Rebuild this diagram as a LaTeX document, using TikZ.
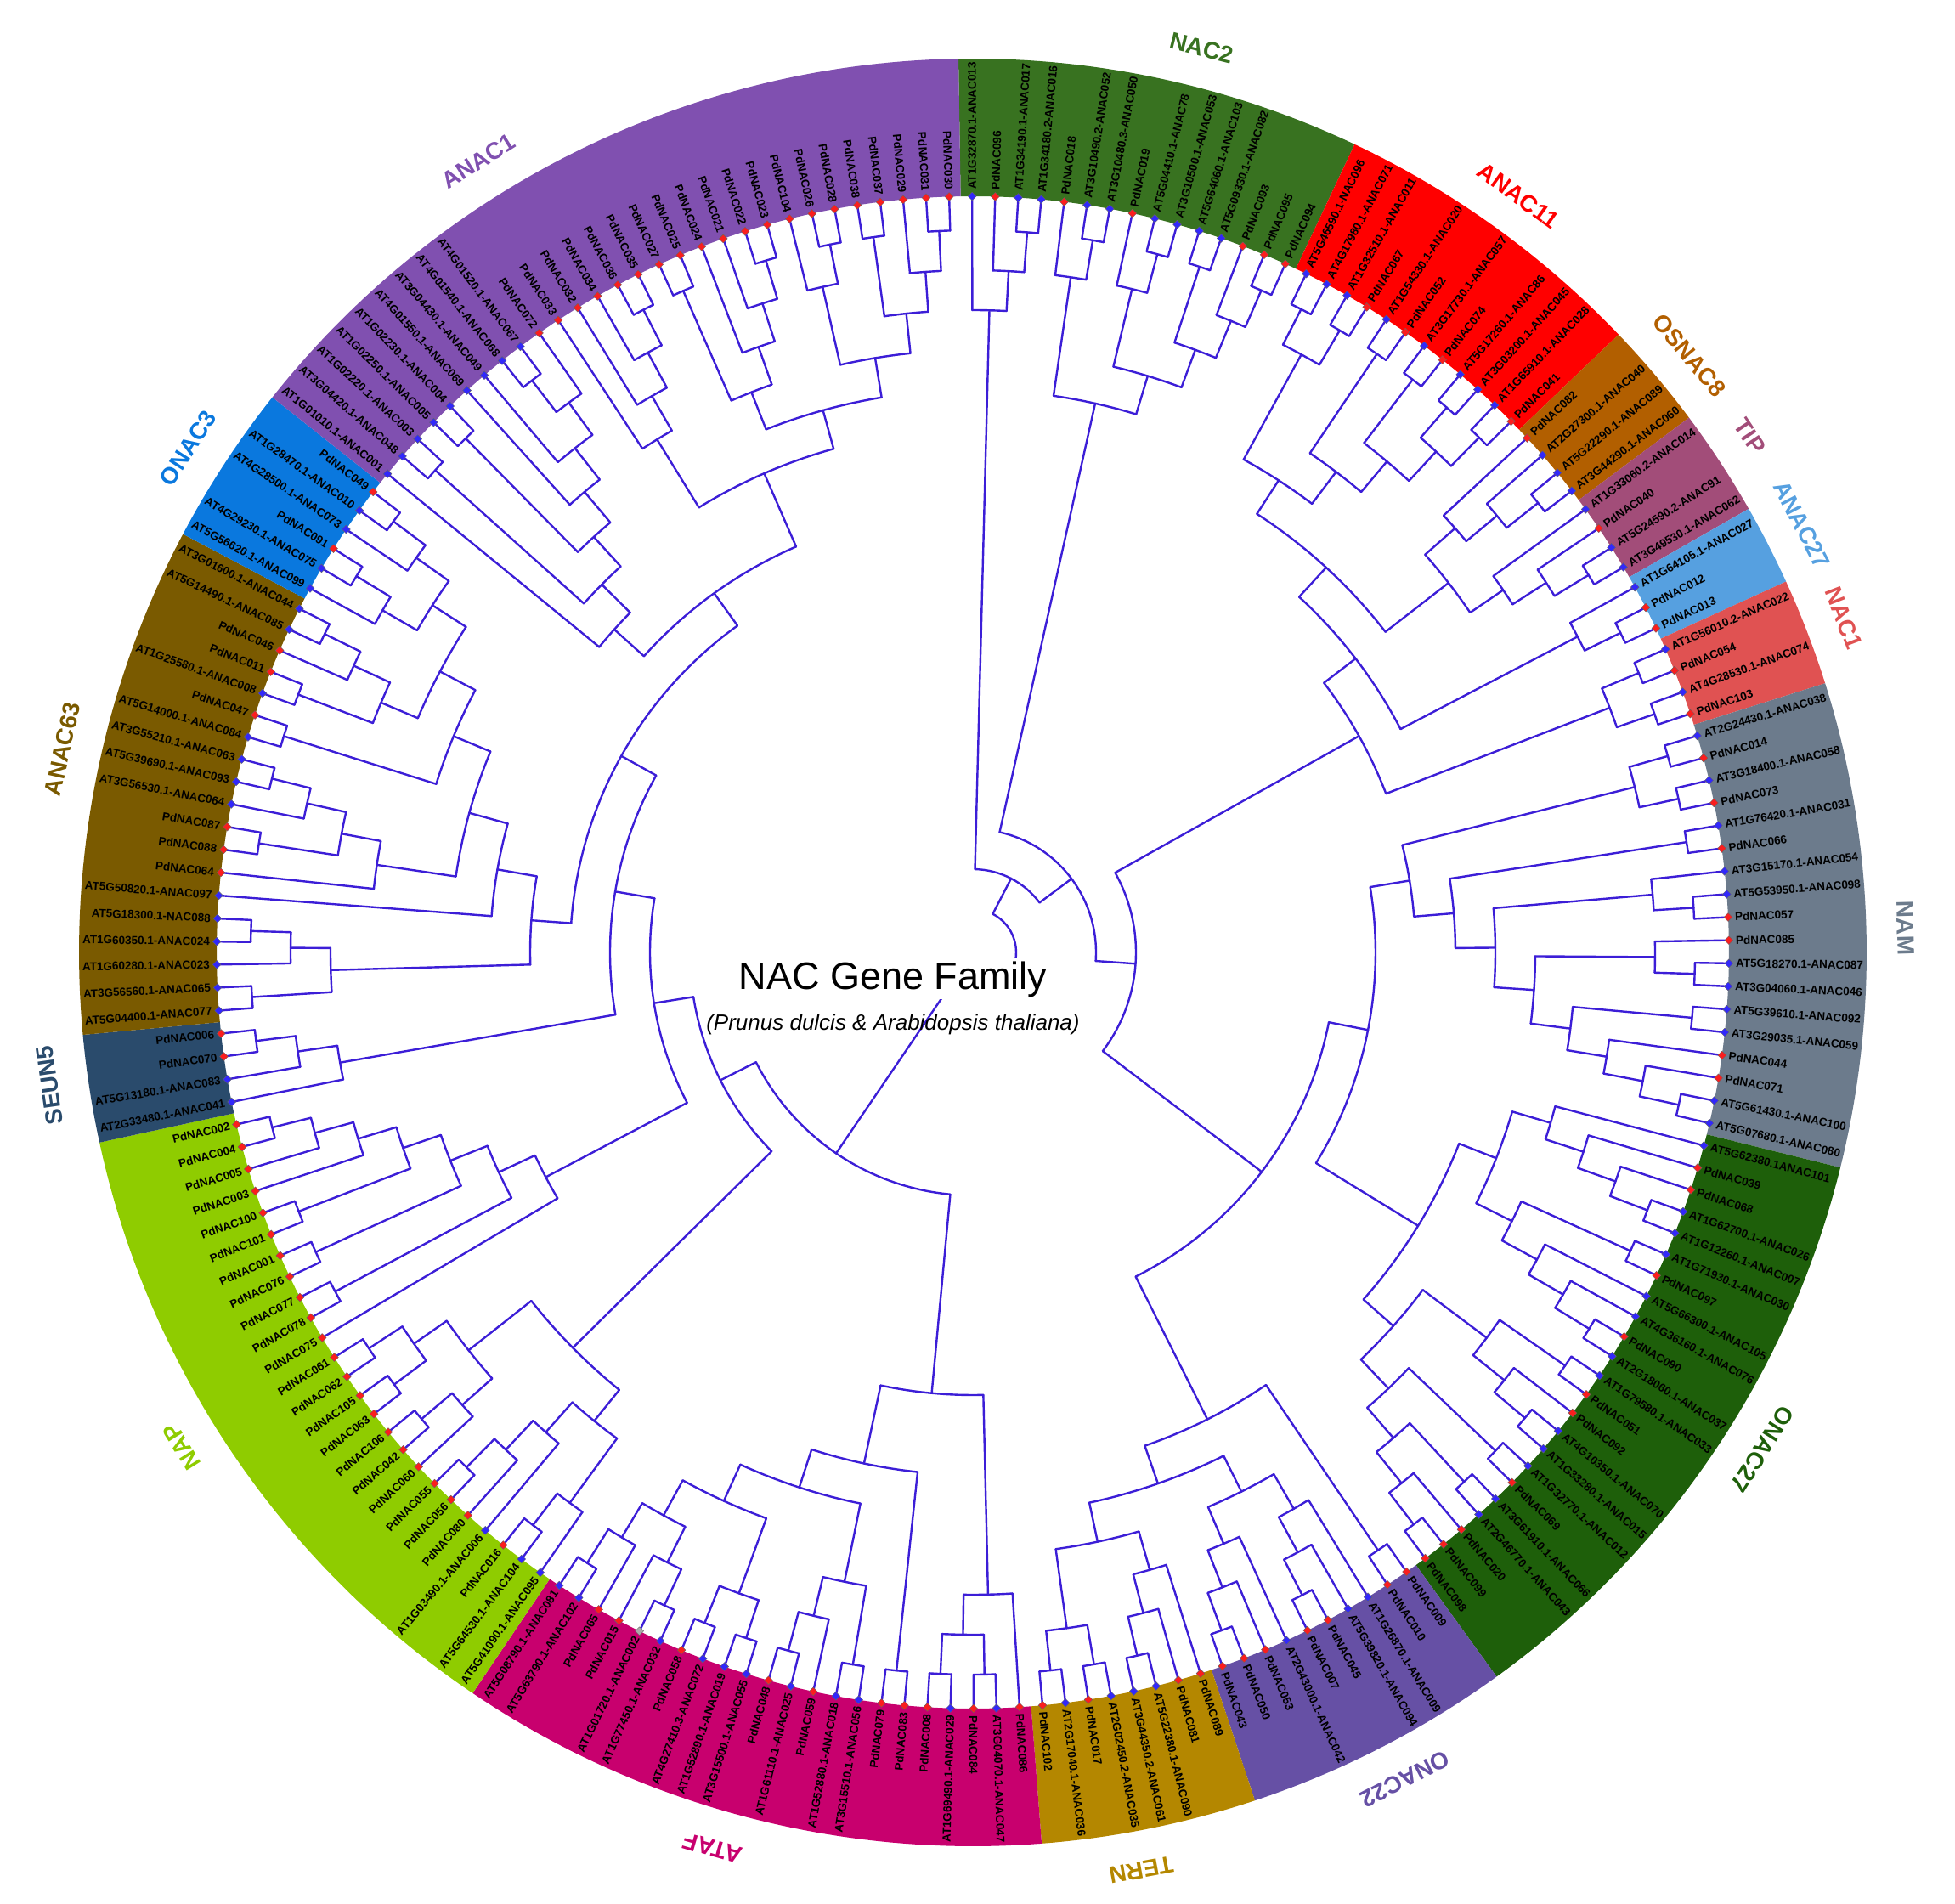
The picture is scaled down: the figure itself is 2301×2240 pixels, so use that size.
\documentclass[tikz,border=0pt]{standalone}
\usepackage{fontspec}
\setmainfont{Liberation Sans}
\usetikzlibrary{shapes.geometric}
\pgfdeclarelayer{bg}\pgfdeclarelayer{fg}
\pgfsetlayers{bg,main,fg}
\definecolor{cbranch}{RGB}{60,30,215}
\definecolor{cdotred}{RGB}{250,30,30}
\definecolor{cdotblue}{RGB}{50,40,250}
\definecolor{cdotgray}{RGB}{170,170,170}
\definecolor{cNACtwo}{RGB}{56,114,32}
\definecolor{cANACeleven}{RGB}{255,0,0}
\definecolor{cOSNAC}{RGB}{178,95,0}
\definecolor{cTIP}{RGB}{162,77,121}
\definecolor{cANACtwsev}{RGB}{86,160,224}
\definecolor{cNACone}{RGB}{224,82,82}
\definecolor{cNAM}{RGB}{108,123,140}
\definecolor{cONACtwsev}{RGB}{30,95,10}
\definecolor{cONACtwtw}{RGB}{102,80,165}
\definecolor{cTERN}{RGB}{180,135,0}
\definecolor{cATAF}{RGB}{200,0,110}
\definecolor{cNAP}{RGB}{143,204,0}
\definecolor{cSEUN}{RGB}{42,75,108}
\definecolor{cANACsixth}{RGB}{122,90,0}
\definecolor{cONACthree}{RGB}{10,120,222}
\definecolor{cANACone}{RGB}{128,80,176}
\tikzset{
  branch/.style={draw=cbranch,line width=2.4pt,line cap=round,line join=round},
  leaflab/.style={inner sep=0pt,font=\bfseries\fontsize{13.5}{13.5}\selectfont,text=black},
  leafdot/.style={diamond,shape aspect=1,minimum size=10pt,inner sep=0pt,draw=black!60,line width=0.4pt},
  glab/.style={inner sep=0pt,font=\bfseries\fontsize{28}{28}\selectfont}
}
\newcount\leafno
\def\angstep{1.747572816}
\def\startang{90.05}
\def\rzero{897}
\def\rstep{47}
\def\leafr{890}
\def\afterchild{}
\newcommand\mkleaf[2]{%
  \global\advance\leafno by 1
  \pgfmathsetmacro\leafang{\startang-(\the\leafno-1)*\angstep}%
  \begin{pgfonlayer}{fg}
  \ifnum\leafno<105
    \node[leaflab,rotate=\leafang,anchor=west] (lab\the\leafno) at (\leafang:898pt) {#2};
  \else
    \pgfmathsetmacro\leafrot{\leafang+180}%
    \node[leaflab,rotate=\leafrot,anchor=east] (lab\the\leafno) at (\leafang:898pt) {#2};
  \fi
  \node[leafdot,fill=#1] (dot\the\leafno) at (\leafang:\leafr pt) {};
  \end{pgfonlayer}
  \xdef\retang{\leafang}\xdef\reth{0}\xdef\retr{\leafr}%
  \afterchild}
\newcommand\tpd[1]{\mkleaf{cdotred}{#1}}
\newcommand\tat[1]{\mkleaf{cdotblue}{#1}}
\newcommand\tgr[1]{\mkleaf{cdotgray}{#1}}
\newcommand\tndf[2]{%
  \begingroup
    \def\clist{}\pgfmathsetmacro\maxh{#1-1}\def\firsta{0}\def\lasta{0}%
    \def\afterchild{%
      \ifx\clist\empty \edef\clist{\retang/\retr}\edef\firsta{\retang}%
      \else \edef\clist{\clist,\retang/\retr}\fi
      \edef\lasta{\retang}%
      \pgfmathsetmacro\maxh{max(\maxh,\reth)}}%
    #2%
    \pgfmathsetmacro\myh{\maxh+1}%
    \pgfmathsetmacro\myr{\rzero-\rstep*\myh}%
    \foreach \cha/\chr in \clist {\draw[branch] (\cha:\chr pt) -- (\cha:\myr pt);}%
    \draw[branch] (\firsta:\myr pt) arc[start angle=\firsta,end angle=\lasta,radius=\myr pt];
    \pgfmathsetmacro\mya{(\firsta+\lasta)/2}%
    \xdef\retang{\mya}\xdef\reth{\myh}\xdef\retr{\myr}%
  \endgroup
  \afterchild}
\newcommand\tnd[1]{\tndf{0}{#1}}
\newcommand\sector[3]{%
  \pgfmathsetmacro\secA{\startang-(#1-1)*\angstep+\angstep/2}%
  \pgfmathsetmacro\secB{\startang-(#2-1)*\angstep-\angstep/2}%
  \fill[#3] (\secA:890pt) arc[start angle=\secA,end angle=\secB,radius=890pt] -- (\secB:1052pt) arc[start angle=\secB,end angle=\secA,radius=1052pt] -- cycle;}
\newcommand\glabel[4]{%
  \pgfmathsetmacro\grot{#1-90}%
  \node[glab,text=#2,rotate=\grot] (#4) at (#1:1098pt) {#3};}
\begin{document}
\begin{tikzpicture}
\useasboundingbox (-1145pt,-1119pt) rectangle (1156pt,1121pt);
\begin{pgfonlayer}{bg}
\sector{1}{15}{cNACtwo}
\sector{16}{27}{cANACeleven}
\sector{28}{31}{cOSNAC}
\sector{32}{35}{cTIP}
\sector{36}{38}{cANACtwsev}
\sector{39}{42}{cNACone}
\sector{43}{60}{cNAM}
\sector{61}{83}{cONACtwsev}
\sector{84}{93}{cONACtwtw}
\sector{94}{101}{cTERN}
\sector{102}{123}{cATAF}
\sector{124}{148}{cNAP}
\sector{149}{152}{cSEUN}
\sector{153}{171}{cANACsixth}
\sector{172}{177}{cONACthree}
\sector{178}{206}{cANACone}
\end{pgfonlayer}
\glabel{75.8}{cNACtwo}{NAC2}{gNACtwo}
\glabel{54.2}{cANACeleven}{ANAC11}{gANACeleven}
\glabel{39.8}{cOSNAC}{OSNAC8}{gOSNAC}
\glabel{33.6}{cTIP}{TIP}{gTIP}
\glabel{27.3}{cANACtwsev}{ANAC27}{gANACtwsev}
\glabel{21}{cNACone}{NAC1}{gNACone}
\glabel{1.5}{cNAM}{NAM}{gNAM}
\glabel{-32.2}{cONACtwsev}{ONAC27}{gONACtwsev}
\glabel{-62.4}{cONACtwtw}{ONAC22}{gONACtwtw}
\glabel{-79.6}{cTERN}{TERN}{gTERN}
\glabel{-106.2}{cATAF}{ATAF}{gATAF}
\glabel{212}{cNAP}{NAP}{gNAP}
\glabel{188.2}{cSEUN}{SEUN5}{gSEUN}
\glabel{167.4}{cANACsixth}{ANAC63}{gANACsixth}
\glabel{147.3}{cONACthree}{ONAC3}{gONACthree}
\glabel{122}{cANACone}{ANAC1}{gANACone}
\tnd{%
 \tnd{%
  \tnd{\tat{AT1G32870.1-ANAC013}\tnd{\tpd{PdNAC096}\tnd{\tat{AT1G34190.1-ANAC017}\tat{AT1G34180.2-ANAC016}}}}%
  \tnd{%
   \tnd{\tnd{\tpd{PdNAC018}\tnd{\tat{AT3G10490.2-ANAC052}\tat{AT3G10480.3-ANAC050}}}\tnd{\tnd{\tpd{PdNAC019}\tnd{\tat{AT5G04410.1-ANAC78}\tat{AT3G10500.1-ANAC053}}}\tnd{\tnd{\tat{AT5G64060.1-ANAC103}\tat{AT5G09330.1-ANAC082}}\tnd{\tpd{PdNAC093}\tnd{\tpd{PdNAC095}\tpd{PdNAC094}}}}}}%
   \tndf{15}{%
    \tnd{%
     \tnd{%
      \tnd{%
       \tnd{\tnd{\tnd{\tat{AT5G46590.1-NAC096}\tat{AT4G17980.1-ANAC071}}\tnd{\tat{AT1G32510.1-ANAC011}\tpd{PdNAC067}}}\tnd{\tnd{\tat{AT1G54330.1-ANAC020}\tpd{PdNAC052}}\tnd{\tnd{\tat{AT3G17730.1-ANAC057}\tpd{PdNAC074}}\tnd{\tnd{\tat{AT5G17260.1-ANAC86}\tat{AT3G03200.1-ANAC045}}\tnd{\tat{AT1G65910.1-ANAC028}\tpd{PdNAC041}}}}}}%
       \tnd{\tnd{\tpd{PdNAC082}\tnd{\tat{AT2G27300.1-ANAC040}\tnd{\tat{AT5G22290.1-ANAC089}\tat{AT3G44290.1-ANAC060}}}}\tnd{\tat{AT1G33060.2-ANAC014}\tnd{\tpd{PdNAC040}\tnd{\tat{AT5G24590.2-ANAC91}\tat{AT3G49530.1-ANAC062}}}}}%
      }%
      \tnd{\tat{AT1G64105.1-ANAC027}\tnd{\tpd{PdNAC012}\tpd{PdNAC013}}}%
     }%
     \tnd{\tnd{\tat{AT1G56010.2-ANAC022}\tpd{PdNAC054}}\tnd{\tat{AT4G28530.1-ANAC074}\tpd{PdNAC103}}}%
    }%
    \tnd{%
     \tnd{%
      \tnd{\tnd{\tnd{\tat{AT2G24430.1-ANAC038}\tpd{PdNAC014}}\tnd{\tat{AT3G18400.1-ANAC058}\tpd{PdNAC073}}}%
       \tnd{\tnd{\tat{AT1G76420.1-ANAC031}\tpd{PdNAC066}}%
        \tnd{\tnd{\tat{AT3G15170.1-ANAC054}\tnd{\tat{AT5G53950.1-ANAC098}\tpd{PdNAC057}}}%
         \tnd{\tnd{\tpd{PdNAC085}\tnd{\tat{AT5G18270.1-ANAC087}\tat{AT3G04060.1-ANAC046}}}%
          \tnd{\tnd{\tat{AT5G39610.1-ANAC092}\tat{AT3G29035.1-ANAC059}}\tnd{\tpd{PdNAC044}\tnd{\tpd{PdNAC071}\tnd{\tat{AT5G61430.1-ANAC100}\tat{AT5G07680.1-ANAC080}}}}}}}}}%
      \tnd{%
       \tnd{\tnd{\tat{AT5G62380.1ANAC101}\tnd{\tpd{PdNAC039}\tnd{\tpd{PdNAC068}\tnd{\tat{AT1G62700.1-ANAC026}\tat{AT1G12260.1-ANAC007}}}}}%
        \tnd{\tnd{\tat{AT1G71930.1-ANAC030}\tpd{PdNAC097}}\tnd{\tat{AT5G66300.1-ANAC105}\tnd{\tat{AT4G36160.1-ANAC076}\tnd{\tpd{PdNAC090}\tat{AT2G18060.1-ANAC037}}}}}}%
       \tnd{\tnd{\tnd{\tat{AT1G79580.1-ANAC033}\tpd{PdNAC051}}\tnd{\tpd{PdNAC092}\tnd{\tat{AT4G10350.1-ANAC070}\tat{AT1G33280.1-ANAC015}}}}\tnd{\tnd{\tat{AT1G32770.1-ANAC012}\tpd{PdNAC069}}\tnd{\tnd{\tat{AT3G61910.1-ANAC066}\tat{AT2G46770.1-ANAC043}}\tnd{\tpd{PdNAC020}\tnd{\tpd{PdNAC099}\tpd{PdNAC098}}}}}}%
      }%
     }%
     \tnd{\tnd{\tpd{PdNAC009}\tpd{PdNAC010}}%
      \tnd{\tnd{\tnd{\tat{AT1G26870.1-ANAC009}\tnd{\tat{AT5G39820.1-ANAC094}\tnd{\tpd{PdNAC045}\tpd{PdNAC007}}}}\tnd{\tat{AT2G43000.1-ANAC042}\tnd{\tpd{PdNAC053}\tnd{\tpd{PdNAC050}\tpd{PdNAC043}}}}}%
       \tnd{\tnd{\tpd{PdNAC089}\tnd{\tpd{PdNAC081}\tnd{\tat{AT5G22380.1-ANAC090}\tat{AT3G44350.2-ANAC061}}}}\tnd{\tnd{\tat{AT2G02450.2-ANAC035}\tpd{PdNAC017}}\tnd{\tat{AT2G17040.1-ANAC036}\tpd{PdNAC102}}}}}}%
    }%
   }%
  }%
 }%
 \tnd{%
  \tndf{8}{\tnd{\tpd{PdNAC086}\tnd{\tnd{\tat{AT3G04070.1-ANAC047}\tpd{PdNAC084}}\tnd{\tat{AT1G69490.1-ANAC029}\tpd{PdNAC008}}}}%
   \tnd{\tnd{\tpd{PdNAC083}\tpd{PdNAC079}}%
    \tnd{\tnd{\tnd{\tat{AT3G15510.1-ANAC056}\tat{AT1G52880.1-ANAC018}}\tnd{\tpd{PdNAC059}\tnd{\tat{AT1G61110.1-ANAC025}\tpd{PdNAC048}}}}%
     \tnd{\tnd{\tnd{\tat{AT3G15500.1-ANAC055}\tat{AT1G52890.1-ANAC019}}\tnd{\tat{AT4G27410.3-ANAC072}\tpd{PdNAC058}}}%
      \tnd{\tnd{\tnd{\tat{AT1G77450.1-ANAC032}\tgr{AT1G01720.1-ANAC002}}\tpd{PdNAC015}}\tnd{\tpd{PdNAC065}\tnd{\tat{AT5G63790.1-ANAC102}\tat{AT5G08790.1-ANAC081}}}}}}}}%
  \tnd{%
   \tnd{\tnd{\tnd{\tat{AT5G41090.1-ANAC095}\tnd{\tat{AT5G64530.1-ANAC104}\tpd{PdNAC016}}}\tnd{\tat{AT1G03490.1-ANAC006}\tnd{\tpd{PdNAC080}\tnd{\tpd{PdNAC056}\tpd{PdNAC055}}}}}%
    \tnd{\tnd{\tpd{PdNAC060}\tnd{\tpd{PdNAC042}\tpd{PdNAC106}}}\tnd{\tnd{\tpd{PdNAC063}\tpd{PdNAC105}}\tnd{\tpd{PdNAC062}\tpd{PdNAC061}}}}}%
   \tnd{%
    \tnd{\tpd{PdNAC075}\tnd{\tnd{\tpd{PdNAC078}\tpd{PdNAC077}}\tnd{\tnd{\tpd{PdNAC076}\tpd{PdNAC001}}\tnd{\tnd{\tpd{PdNAC101}\tpd{PdNAC100}}\tnd{\tpd{PdNAC003}\tnd{\tpd{PdNAC005}\tnd{\tpd{PdNAC004}\tpd{PdNAC002}}}}}}}}%
    \tnd{%
     \tnd{\tat{AT2G33480.1-ANAC041}\tnd{\tat{AT5G13180.1-ANAC083}\tnd{\tpd{PdNAC070}\tpd{PdNAC006}}}}%
     \tnd{%
      \tnd{\tnd{\tnd{\tat{AT5G04400.1-ANAC077}\tat{AT3G56560.1-ANAC065}}\tnd{\tat{AT1G60280.1-ANAC023}\tnd{\tat{AT1G60350.1-ANAC024}\tat{AT5G18300.1-NAC088}}}}%
       \tnd{\tat{AT5G50820.1-ANAC097}\tnd{\tnd{\tpd{PdNAC064}\tnd{\tnd{\tpd{PdNAC088}\tpd{PdNAC087}}\tnd{\tat{AT3G56530.1-ANAC064}\tnd{\tat{AT5G39690.1-ANAC093}\tat{AT3G55210.1-ANAC063}}}}}%
        \tnd{\tnd{\tat{AT5G14000.1-ANAC084}\tpd{PdNAC047}}\tnd{\tnd{\tnd{\tat{AT1G25580.1-ANAC008}\tpd{PdNAC011}}\tnd{\tpd{PdNAC046}\tnd{\tat{AT5G14490.1-ANAC085}\tat{AT3G01600.1-ANAC044}}}}%
         \tnd{\tnd{\tat{AT5G56620.1-ANAC099}\tnd{\tat{AT4G29230.1-ANAC075}\tpd{PdNAC091}}}\tnd{\tat{AT4G28500.1-ANAC073}\tnd{\tat{AT1G28470.1-ANAC010}\tpd{PdNAC049}}}}}}}}}%
      \tnd{\tnd{\tat{AT1G01010.1-ANAC001}\tnd{\tnd{\tat{AT3G04420.1-ANAC048}\tat{AT1G02220.1-ANAC003}}\tnd{\tnd{\tat{AT1G02250.1-ANAC005}\tat{AT1G02230.1-ANAC004}}\tnd{\tat{AT4G01550.1-ANAC069}\tnd{\tat{AT3G04430.1-ANAC049}\tnd{\tnd{\tat{AT4G01540.1-ANAC068}\tat{AT4G01520.1-ANAC067}}\tpd{PdNAC072}}}}}}}%
       \tnd{\tnd{\tpd{PdNAC033}\tnd{\tpd{PdNAC032}\tnd{\tpd{PdNAC034}\tnd{\tpd{PdNAC036}\tpd{PdNAC035}}}}}%
        \tnd{\tnd{\tnd{\tpd{PdNAC027}\tpd{PdNAC025}}\tnd{\tpd{PdNAC024}\tnd{\tpd{PdNAC021}\tnd{\tpd{PdNAC022}\tpd{PdNAC023}}}}}%
         \tnd{\tnd{\tpd{PdNAC104}\tnd{\tpd{PdNAC026}\tpd{PdNAC028}}}\tnd{\tnd{\tpd{PdNAC038}\tpd{PdNAC037}}\tnd{\tpd{PdNAC029}\tnd{\tpd{PdNAC031}\tpd{PdNAC030}}}}}}}}%
     }%
    }%
   }%
  }%
 }%
}
\node[anchor=base,inner sep=3pt,fill=white,font=\fontsize{45}{45}\selectfont] (title) at (-94pt,-43pt) {NAC Gene Family};
\node[anchor=base,inner sep=0pt,font=\itshape\fontsize{26}{26}\selectfont] (subtitle) at (-94pt,-91pt) {(Prunus dulcis \& Arabidopsis thaliana)};
\end{tikzpicture}
\end{document}
